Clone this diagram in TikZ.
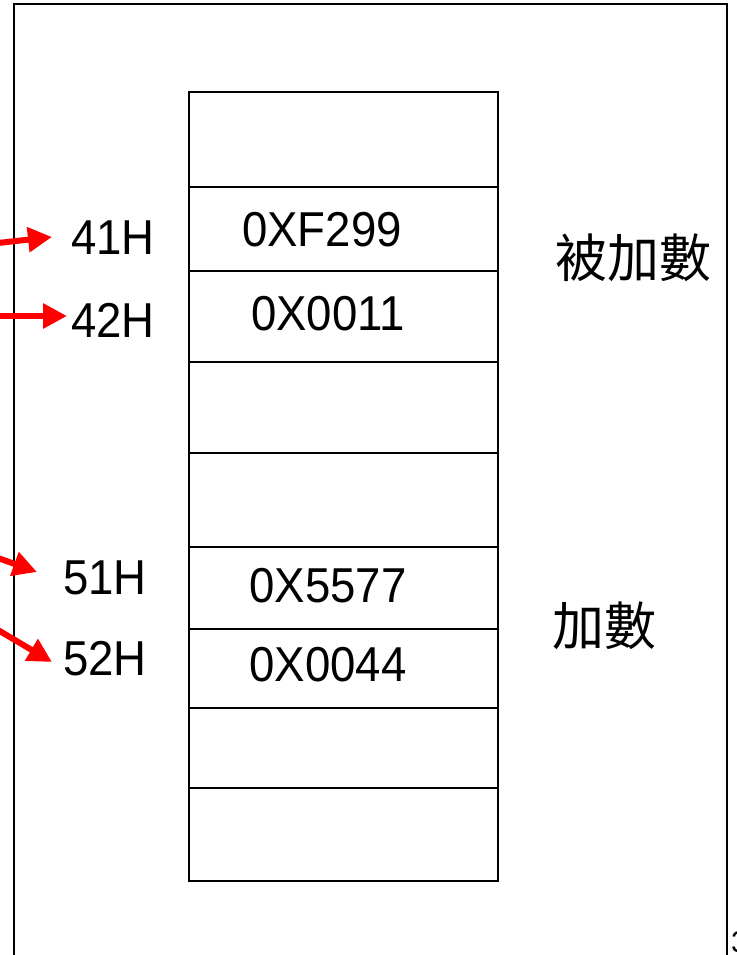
\documentclass[tikz,border=0pt]{standalone}
\usepackage{fontspec}
\setmainfont{Liberation Sans}
\newfontfamily\narrowf[FakeStretch=0.93]{Liberation Sans}
\newfontfamily\cjk{Noto Sans CJK TC}
\usetikzlibrary{arrows.meta}
\begin{document}
\begin{tikzpicture}[x=1pt,y=-1pt,
  cell/.style={draw,line width=2pt},
  lbl/.style={font=\narrowf\fontsize{49}{52}\selectfont,inner sep=0pt},
  val/.style={font=\narrowf\fontsize{49}{52}\selectfont,inner sep=0pt},
  zh/.style={font=\cjk\fontsize{52}{56}\selectfont,inner sep=0pt},
  ptr/.style={red,line width=6pt,-{Triangle[length=24pt,width=24pt]}}]
\useasboundingbox (0,0) rectangle (736,955);
\begin{scope}
\clip (0,0) rectangle (736,955);
\draw[line width=2.5pt] (14,960) -- (14,4) -- (727,4) -- (727,960);
\node[anchor=west,font=\fontsize{30}{34}\selectfont,inner sep=0pt] (pg) at (731,942) {3};
\end{scope}
% memory cells
\foreach \a/\b [count=\i] in {92/187,187/271,271/362,362/453,453/547,547/629,629/708,708/788,788/881}
  \draw[cell] (189,\a) rectangle (498,\b);
\node[val] (v1) at (322,230) {0XF299};
\node[val] (v2) at (328,314) {0X0011};
\node[val] (v3) at (328,586) {0X5577};
\node[val] (v4) at (328,665) {0X0044};
\node[lbl] (a41) at (113,238) {41H};
\node[lbl] (a42) at (113,320) {42H};
\node[lbl] (a51) at (105,578) {51H};
\node[lbl] (a52) at (105,659) {52H};
\node[zh] (t1) at (633,258) {被加數};
\node[zh] (t2) at (604,626) {加數};
\coordinate (s1) at (-2,243);
\coordinate (s2) at (-2,316);
\coordinate (s3) at (-2,558);
\coordinate (s4) at (-2,630);
\draw[ptr] (s1) -- (52,237);
\draw[ptr] (s2) -- (67,316);
\draw[ptr] (s3) -- (37,572);
\draw[ptr] (s4) -- (52,662);
\end{tikzpicture}
\end{document}
